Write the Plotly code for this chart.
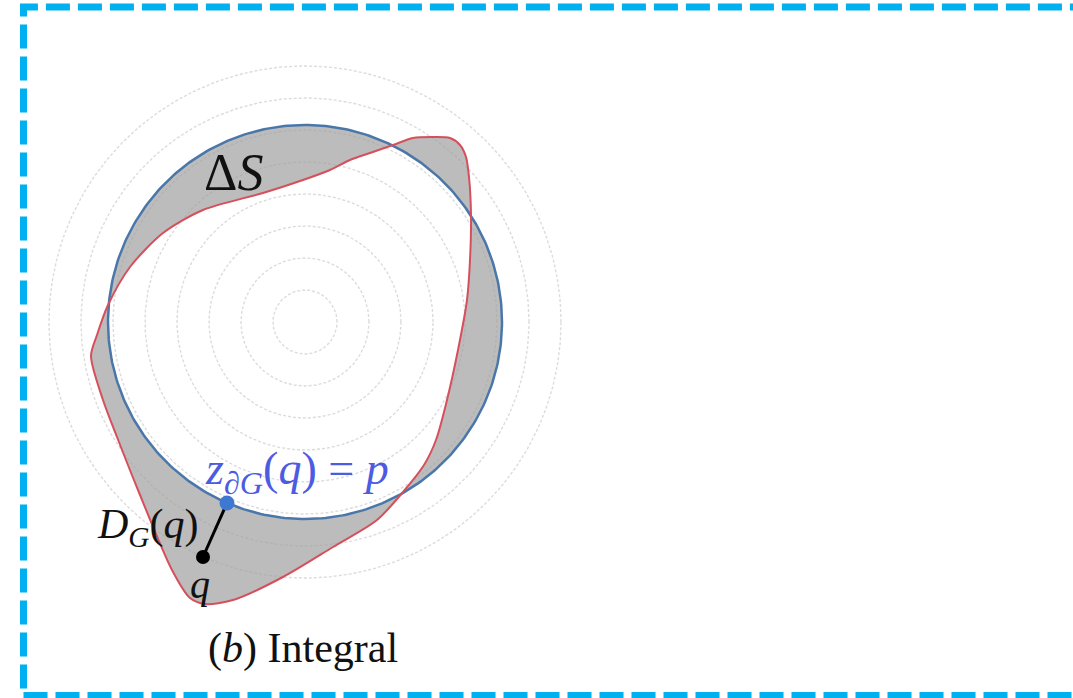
import numpy as np
import plotly.graph_objects as go

# ---- data (pixel units, relative to the circle centre, y up) ----
ring_radii = [32, 64, 96, 128, 160, 192, 224, 256]
boundary_radius = 197

red_x = [88, 108, 128, 145, 155, 161, 164, 166, 165, 162, 153, 142, 131, 119, 98,
         72, 28, -22, -72, -100, -115, -133, -167, -188, -202, -214, -208, -197,
         -175, -142, -102, -42, -2, 25, 45, 65]
red_y = [177, 184, 185, 184, 177, 165, 145, 107, 62, 22, -28, -78, -118, -143, -170,
         -198, -225, -255, -278, -282, -276, -248, -168, -115, -78, -34, -13, 17,
         55, 89, 112, 129, 142, 152, 162, 169]

p_point = (-78, -181)   # z_dG(q) = p on the boundary
q_point = (-102, -235)  # q

W, H = 1073, 698
CX, CY = 305, 322

fig = go.Figure()

# concentric dotted rings
t = np.linspace(0, 2 * np.pi, 361)
for r in ring_radii:
    fig.add_trace(go.Scatter(x=r * np.cos(t), y=r * np.sin(t), mode="lines",
                             line=dict(color="#dcdcdc", width=1.4, dash="3px,2px"),
                             hoverinfo="skip", showlegend=False))

# symmetric difference fill: red blob (clockwise) + circle (counter-clockwise)
cx = list(boundary_radius * np.cos(t))
cy = list(boundary_radius * np.sin(t))
rx = red_x + [red_x[0]]
ry = red_y + [red_y[0]]
fig.add_trace(go.Scatter(x=rx + [None] + cx, y=ry + [None] + cy, mode="lines",
                         fill="toself", fillcolor="rgba(160,160,160,0.7)",
                         line=dict(width=0, shape="spline", smoothing=0.8),
                         hoverinfo="skip", showlegend=False))

# blue boundary circle
fig.add_trace(go.Scatter(x=cx, y=cy, mode="lines",
                         line=dict(color="#4a77aa", width=2.5),
                         hoverinfo="skip", showlegend=False))
# red shape
fig.add_trace(go.Scatter(x=rx, y=ry, mode="lines",
                         line=dict(color="#d5505c", width=2, shape="spline", smoothing=0.8),
                         hoverinfo="skip", showlegend=False))

# segment q -> p
fig.add_trace(go.Scatter(x=[q_point[0], p_point[0]], y=[q_point[1], p_point[1]],
                         mode="lines", line=dict(color="black", width=3),
                         hoverinfo="skip", showlegend=False))
fig.add_trace(go.Scatter(x=[p_point[0]], y=[p_point[1]], mode="markers",
                         marker=dict(color="#3f78d0", size=15),
                         hoverinfo="skip", showlegend=False))
fig.add_trace(go.Scatter(x=[q_point[0]], y=[q_point[1]], mode="markers",
                         marker=dict(color="black", size=14),
                         hoverinfo="skip", showlegend=False))

serif = "Liberation Serif"
ann = [
    dict(x=-72, y=150, text="Δ<i>S</i>", font=dict(size=52, color="#111")),
    dict(x=-8, y=-150, text="<i>z</i><sub>∂<i>G</i></sub>(<i>q</i>) = <i>p</i>",
         font=dict(size=46, color="#4c5ce2")),
    dict(x=-157, y=-205, text="<i>D</i><sub><i>G</i></sub>(<i>q</i>)",
         font=dict(size=42, color="#111")),
    dict(x=-105, y=-262, text="<i>q</i>", font=dict(size=40, color="#111")),
    dict(x=-2, y=-326, text="(<i>b</i>) Integral", font=dict(size=42, color="#111")),
]
for a in ann:
    a["font"]["family"] = serif
    fig.add_annotation(x=a["x"], y=a["y"], text=a["text"], font=a["font"],
                       showarrow=False, xref="x", yref="y")

# dashed cyan frame
fig.add_shape(type="rect", xref="paper", yref="paper",
              x0=23.5 / W, x1=1.02, y0=1 - 695.5 / H, y1=1 - 7 / H,
              line=dict(color="#00b0f0", width=7, dash="24px,8px"))

fig.update_xaxes(range=[-CX, W - CX], visible=False, fixedrange=True)
fig.update_yaxes(range=[CY - H, CY], visible=False, fixedrange=True)
fig.update_layout(width=W, height=H, margin=dict(l=0, r=0, t=0, b=0),
                  paper_bgcolor="white", plot_bgcolor="white")
fig.write_html("out.html", config={"displayModeBar": False},
               post_script="document.body.style.margin='0';document.body.style.overflow='hidden';")
